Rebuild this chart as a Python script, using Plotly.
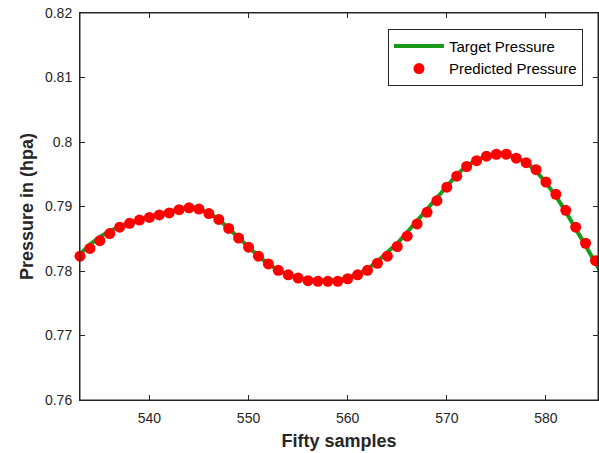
import plotly.graph_objects as go

# sample index
samples = list(range(533, 586))

# predicted pressure (red markers)
predicted = [
    0.7823, 0.7835, 0.7847, 0.7858, 0.7868, 0.7874, 0.7879, 0.7883, 0.7887, 0.7890,
    0.7895, 0.7898, 0.7896, 0.7889, 0.7880, 0.7866, 0.7851, 0.7837, 0.7823, 0.7811,
    0.7801, 0.7794, 0.7789, 0.7785, 0.7784, 0.7784, 0.7784, 0.7788, 0.7794, 0.7801,
    0.7812, 0.7823, 0.7838, 0.7854, 0.7873, 0.7891, 0.7909, 0.7930, 0.7947, 0.7962,
    0.7971, 0.7978, 0.7981, 0.7981, 0.7975, 0.7968, 0.7957, 0.7938, 0.7919, 0.7894,
    0.7868, 0.7843, 0.7816,
]

# target pressure (green line), one extra sample past the axis edge
target_x = list(range(533, 587))
target = [
    0.7826, 0.7841, 0.7853, 0.7862, 0.7869, 0.7875, 0.7880, 0.7884, 0.7888, 0.7892,
    0.7896, 0.7898, 0.7896, 0.7890, 0.7880, 0.7866, 0.7851, 0.7837, 0.7823, 0.7811,
    0.7801, 0.7794, 0.7789, 0.7786, 0.7785, 0.7785, 0.7786, 0.7789, 0.7795, 0.7803,
    0.7815, 0.7828, 0.7843, 0.7860, 0.7878, 0.7896, 0.7913, 0.7932, 0.7949, 0.7963,
    0.7972, 0.7978, 0.7981, 0.7981, 0.7976, 0.7968, 0.7955, 0.7937, 0.7916, 0.7892,
    0.7866, 0.7840, 0.7813, 0.7786,
]

x_ticks = [540, 550, 560, 570, 580]
y_ticks = [0.76, 0.77, 0.78, 0.79, 0.8, 0.81, 0.82]
y_tick_text = ["0.76", "0.77", "0.78", "0.79", "0.8", "0.81", "0.82"]

font_family = "Arial, Liberation Sans, Helvetica, sans-serif"
axis_color = "#262626"

fig = go.Figure()

fig.add_trace(
    go.Scatter(
        x=target_x,
        y=target,
        mode="lines",
        name="Target Pressure",
        line=dict(color="#1a9a1a", width=4),
    )
)

fig.add_trace(
    go.Scatter(
        x=samples,
        y=predicted,
        mode="markers",
        name="Predicted Pressure",
        marker=dict(color="#ff0000", size=11, line=dict(width=0)),
        cliponaxis=False,
    )
)

fig.update_xaxes(
    range=[533, 585.25],
    tickvals=x_ticks,
    ticks="inside",
    ticklen=5,
    tickcolor=axis_color,
    showline=True,
    linecolor=axis_color,
    linewidth=1,
    mirror="ticks",
    showgrid=False,
    zeroline=False,
    automargin=False,
    ticklabelstandoff=5,
    ticklabeloverflow="allow",
    tickfont=dict(family=font_family, size=14, color=axis_color),
    title=dict(
        text="<b>Fifty samples</b>",
        font=dict(family=font_family, size=18, color=axis_color),
        standoff=9,
    ),
)

fig.update_yaxes(
    range=[0.76, 0.82],
    tickvals=y_ticks,
    ticktext=y_tick_text,
    ticks="inside",
    ticklen=5,
    tickcolor=axis_color,
    showline=True,
    linecolor=axis_color,
    linewidth=1,
    mirror="ticks",
    showgrid=False,
    zeroline=False,
    automargin=False,
    ticklabelstandoff=4,
    ticklabeloverflow="allow",
    tickfont=dict(family=font_family, size=14, color=axis_color),
    title=dict(
        text="<b>Pressure in (hpa)</b>",
        font=dict(family=font_family, size=18, color=axis_color),
        standoff=6,
    ),
)

# box around the axes, like MATLAB's "box on"
fig.add_shape(
    type="rect",
    xref="paper", yref="paper",
    x0=0, y0=0, x1=1, y1=1,
    line=dict(color=axis_color, width=1),
    layer="above",
)

fig.update_layout(
    width=599,
    height=453,
    margin=dict(l=80, r=1, t=13, b=53, autoexpand=False),
    paper_bgcolor="white",
    plot_bgcolor="white",
    showlegend=True,
    legend=dict(
        x=0.971,
        y=0.959,
        xanchor="right",
        yanchor="top",
        bgcolor="white",
        bordercolor=axis_color,
        borderwidth=1,
        font=dict(family=font_family, size=15, color="#000000"),
        tracegroupgap=0,
        itemwidth=50,
    ),
)

# drop the default page margin so the figure sits at the window's corner
fig.write_html(
    "out.html",
    config={"displayModeBar": False},
    post_script="document.body.style.margin = '0';",
)
